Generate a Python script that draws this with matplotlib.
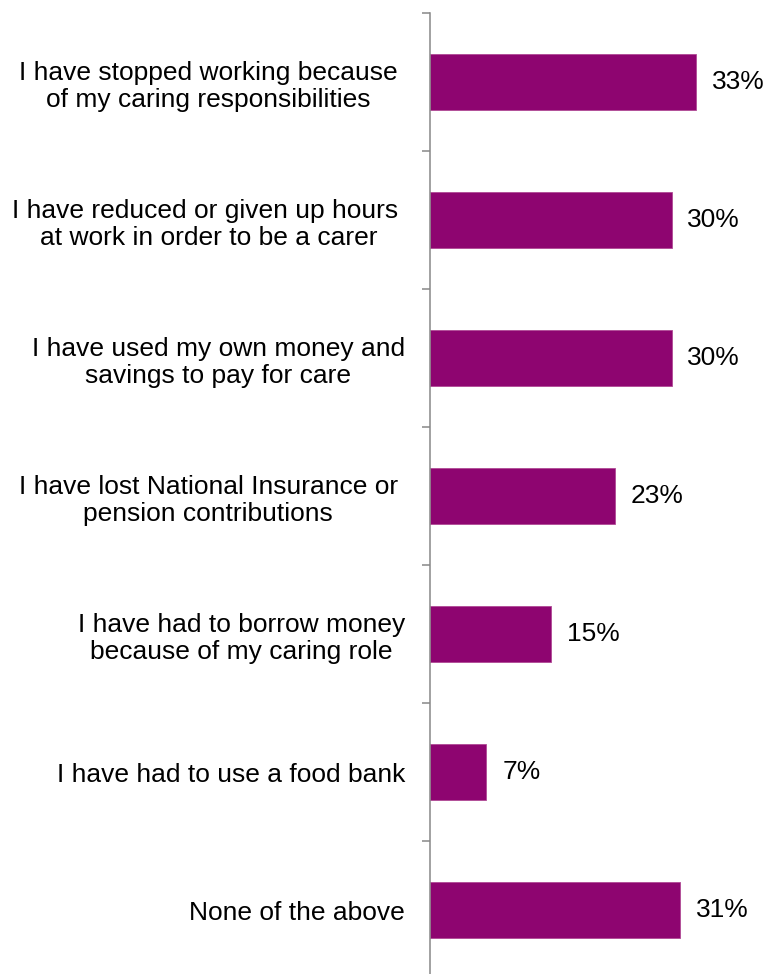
import matplotlib
matplotlib.use("Agg")
import matplotlib.pyplot as plt
import numpy as np

plt.rcParams['font.family'] = ['Liberation Sans', 'DejaVu Sans']

categories = [
    "I have stopped working because \nof my caring responsibilities ",
    "I have reduced or given up hours \nat work in order to be a carer",
    "I have used my own money and\nsavings to pay for care",
    "I have lost National Insurance or \npension contributions ",
    "I have had to borrow money\nbecause of my caring role",
    "I have had to use a food bank",
    "None of the above",
]
values = [33, 30, 30, 23, 15, 7, 31]
value_labels = ["33%", "30%", "30%", "23%", "15%", "7%", "31%"]

bar_color = "#8E0570"
axis_color = "#878787"

fig = plt.figure(figsize=(7.69, 9.74), dpi=100)
ax = fig.add_axes([430 / 769, -5 / 974, 322 / 769, 966 / 974])

y = np.arange(len(categories))
ax.barh(y, values, height=0.4, color=bar_color, edgecolor="#B04A95", linewidth=0.6)

ax.set_ylim(len(categories) - 0.5, -0.5)
ax.set_xlim(0, 40)

for yi, v, lab in zip(y, values, value_labels):
    ax.annotate(lab, xy=(v, yi), xytext=(11.5, 0), textcoords="offset points",
                ha="left", va="center", fontsize=19, color="#000000")

# category labels centred on each bar, ticks on the boundaries between them
ax.set_yticks(y)
ax.set_yticklabels(categories, fontsize=19, ha="right", ma="center", linespacing=1.2)
ax.tick_params(axis="y", which="major", length=0, pad=18)
ax.set_yticks(np.arange(-0.5, len(categories) + 0.5, 1), minor=True)
ax.tick_params(axis="y", which="minor", length=6, width=1.1, color=axis_color, direction="out")

ax.set_xticks([])
for side in ("top", "right", "bottom"):
    ax.spines[side].set_visible(False)
ax.spines["left"].set_color(axis_color)
ax.spines["left"].set_linewidth(1.1)
ax.patch.set_visible(False)

fig.savefig("out.png", dpi=100)
